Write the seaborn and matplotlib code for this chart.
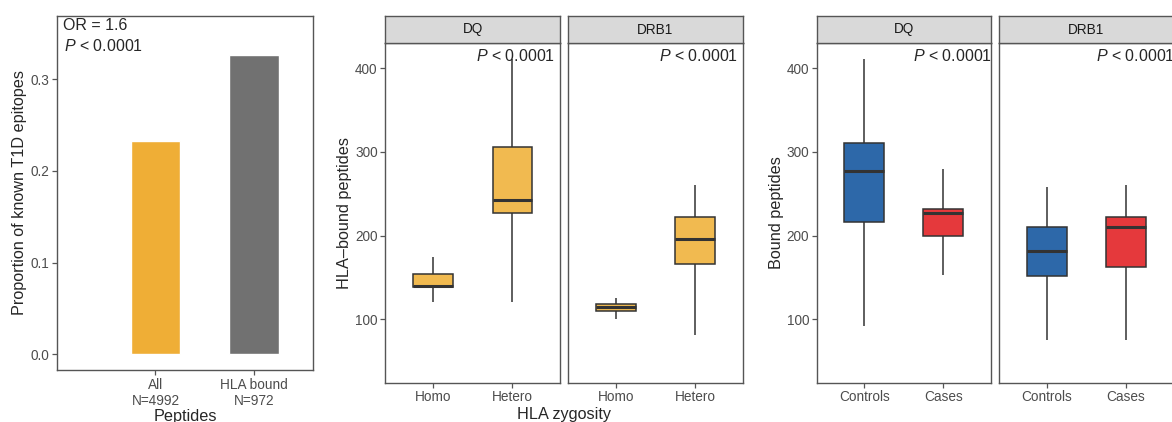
import numpy as np
import pandas as pd
import seaborn as sns
import matplotlib.pyplot as plt

# panel A: proportion of known T1D epitopes
bar_labels = ['All\nN=4992', 'HLA bound\nN=972']
bar_values = [0.233, 0.326]
bar_colors = ['#EFAE36', '#717171']

# panel B: five-number summaries (min, q1, median, q3, max) by zygosity
zyg_levels = ['Homo', 'Hetero']
zyg_dq = {'Homo': [121, 139, 140, 154.6, 174.5],
          'Hetero': [121, 227.5, 243, 305.6, 411.5]}
zyg_drb1 = {'Homo': [100, 110, 114, 117.7, 125.6],
            'Hetero': [81, 165.8, 195.3, 222.3, 261]}

# panel C: five-number summaries by case status
grp_levels = ['Controls', 'Cases']
grp_dq = {'Controls': [92, 216, 277.3, 310.8, 410.7],
          'Cases': [153.4, 199.6, 227.5, 231.8, 279.3]}
grp_drb1 = {'Controls': [75, 151.8, 181, 210.8, 258],
            'Cases': [75, 162.5, 210.8, 222.7, 260.5]}
grp_colors = {'Controls': '#2D68A9', 'Cases': '#E5393C'}

sns.set_style('white')
plt.rcParams['font.family'] = ['Liberation Sans', 'DejaVu Sans']
plt.rcParams['mathtext.fontset'] = 'custom'
plt.rcParams['mathtext.rm'] = 'Liberation Sans'
plt.rcParams['mathtext.it'] = 'Liberation Sans:italic'

W, H = 1172, 422
fig = plt.figure(figsize=(W / 100, H / 100), dpi=100)


def px_axes(x0, y0, x1, y1):
    return fig.add_axes([x0 / W, 1 - y1 / H, (x1 - x0) / W, (y1 - y0) / H])


def style(ax):
    for s in ax.spines.values():
        s.set_color('#555555')
        s.set_linewidth(1.0)
        s.set_visible(True)
    ax.tick_params(axis='both', length=3.5, width=0.9, color='#555555',
                   labelsize=9.8, labelcolor='#4D4D4D', pad=2)
    ax.tick_params(axis='both', which='both', bottom=True, left=True)


def strip(x0, x1, label):
    sa = px_axes(x0, 15.7, x1, 43.3)
    sa.set_facecolor('#D9D9D9')
    sa.set_xticks([])
    sa.set_yticks([])
    for s in sa.spines.values():
        s.set_color('#555555')
        s.set_linewidth(1.0)
    sa.text(0.5, 0.5, label, ha='center', va='center', fontsize=9.8, color='#1A1A1A',
            transform=sa.transAxes)


def to_long(summary, levels, col):
    rows = []
    for lv in levels:
        for v in summary[lv]:
            rows.append({col: lv, 'value': v})
    return pd.DataFrame(rows)


ptext = r'$\mathit{P}$ < 0.0001'

# ---- panel A
axA = px_axes(56.7, 15.7, 313.3, 370)
sns.barplot(x=bar_labels, y=bar_values, hue=bar_labels, palette=bar_colors,
            width=0.5, ax=axA, legend=False, saturation=1)
axA.set_xlim(-1, 1.6)
axA.set_ylim(-0.017, 0.369)
axA.set_yticks([0.0, 0.1, 0.2, 0.3], ['0.0', '0.1', '0.2', '0.3'])
axA.set_ylabel('Proportion of known T1D epitopes', fontsize=11.7, labelpad=2)
axA.set_xlabel('Peptides', fontsize=11.7, labelpad=1)
style(axA)
axA.text(0.025, 0.972, 'OR = 1.6', transform=axA.transAxes, ha='left', va='center', fontsize=11.5)
axA.text(0.03, 0.915, ptext, transform=axA.transAxes, ha='left', va='center', fontsize=11.5)

box_kw = dict(whis=(0, 100), width=0.5, linecolor='#333333', linewidth=1.1,
              showcaps=False, medianprops=dict(linewidth=2.2, color='#333333'))

# ---- panel B
for i, (lab, summ, x0, x1) in enumerate([('DQ', zyg_dq, 385.3, 560),
                                          ('DRB1', zyg_drb1, 568.3, 742.7)]):
    ax = px_axes(x0, 43.3, x1, 382.7)
    df = to_long(summ, zyg_levels, 'zyg')
    sns.boxplot(data=df, x='zyg', y='value', order=zyg_levels, color='#F1BA50',
                saturation=1, ax=ax, **box_kw)
    ax.set_xlim(-0.6, 1.6)
    ax.set_ylim(24, 430)
    ax.set_xlabel('')
    style(ax)
    if i == 0:
        ax.set_yticks([100, 200, 300, 400])
        ax.set_ylabel('HLA\u2013bound peptides', fontsize=11.7, labelpad=2)
    else:
        ax.set_yticks([])
        ax.set_ylabel('')
    ax.text(0.971, 0.964, ptext, transform=ax.transAxes, ha='right', va='center', fontsize=11.5)
    strip(x0, x1, lab)
fig.text(564 / W, 1 - 415 / H, 'HLA zygosity', ha='center', va='center', fontsize=11.7)

# ---- panel C
for i, (lab, summ, x0, x1) in enumerate([('DQ', grp_dq, 816.7, 990.7),
                                          ('DRB1', grp_drb1, 999.3, 1173.3)]):
    ax = px_axes(x0, 43.3, x1, 382.7)
    df = to_long(summ, grp_levels, 'grp')
    sns.boxplot(data=df, x='grp', y='value', order=grp_levels, hue='grp',
                palette=grp_colors, saturation=1, legend=False, ax=ax, **box_kw)
    ax.set_xlim(-0.6, 1.6)
    ax.set_ylim(24, 430)
    ax.set_xlabel('')
    style(ax)
    if i == 0:
        ax.set_yticks([100, 200, 300, 400])
        ax.set_ylabel('Bound peptides', fontsize=11.7, labelpad=2)
    else:
        ax.set_yticks([])
        ax.set_ylabel('')
    ax.text(0.553, 0.964, ptext, transform=ax.transAxes, ha='left', va='center',
            fontsize=11.5, clip_on=False)
    strip(x0, x1, lab)

fig.savefig('out.png', dpi=100)
